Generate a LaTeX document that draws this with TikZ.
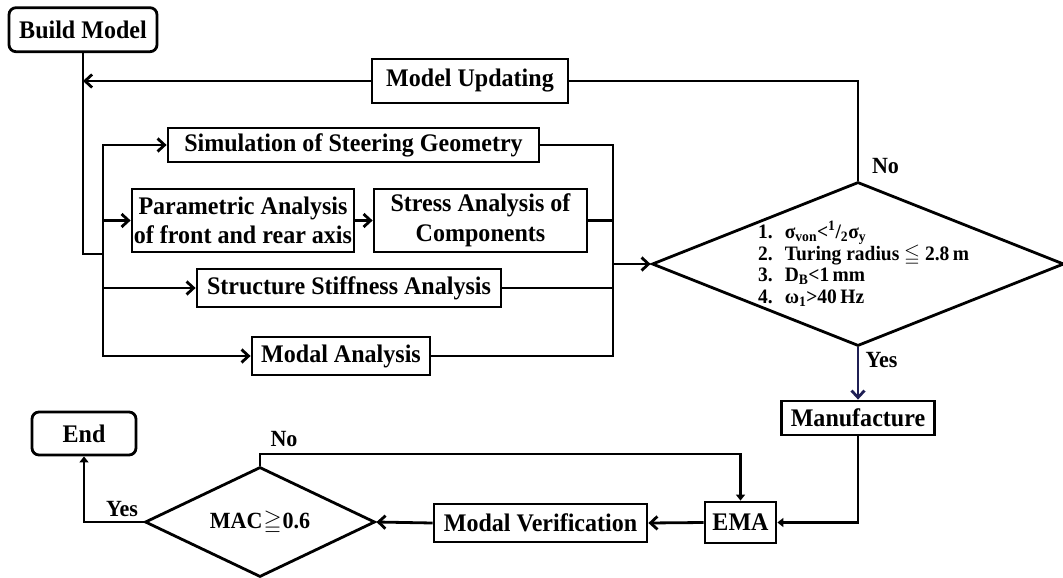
\documentclass[tikz,border=0pt]{standalone}
\usepackage{fontspec}
\usepackage{amssymb}
\setmainfont{Liberation Serif}[FakeStretch=0.95]
\usetikzlibrary{shapes.geometric,arrows.meta}
\definecolor{navy}{RGB}{31,31,84}

\begin{document}
\begin{tikzpicture}[x=1pt,y=-1pt,
  every node/.style={font=\bfseries\fontsize{25.3}{29.5}\selectfont},
  box/.style={draw,line width=2.8pt,inner sep=0pt,align=center},
  startend/.style={box,rounded corners=7pt},
  decision/.style={draw,diamond,line width=2.8pt,inner sep=0pt},
  lbl/.style={font=\bfseries\fontsize{23.2}{27}\selectfont,inner sep=0pt,anchor=base},
  flow/.style={line width=2.8pt},
  barb/.style={flow,-{Straight Barb[length=7pt,width=13pt]}},
  tri/.style={flow,-{Triangle[length=6pt,width=9pt]}},
]
\fill[white] (0,0) rectangle (1063,578);
\useasboundingbox (0,0) rectangle (1063,578);

% design loop
\node[startend,minimum width=148pt,minimum height=44pt] (build) at (83,29.7) {Build Model};
\node[box,minimum width=196pt,minimum height=44pt] (upd) at (470,81) {Model Updating};
\node[box,minimum width=371pt,minimum height=34pt] (sim) at (353.5,145) {Simulation of Steering Geometry};
\node[box,minimum width=222pt,minimum height=63pt] (par) at (243,220.5) {Parametric Analysis\\of front and rear axis};
\node[box,minimum width=213pt,minimum height=63pt] (str) at (480.5,220.5) {Stress Analysis of\\Components};
\node[box,minimum width=304pt,minimum height=38pt] (stf) at (349,288) {Structure Stiffness Analysis};
\node[box,minimum width=178pt,minimum height=38pt] (mod) at (341,356) {Modal Analysis};

% design criteria
\node[decision,minimum width=412pt,minimum height=164pt] (crit) at (858,264) {};
\node[anchor=west,inner sep=0pt,font=\bfseries\fontsize{20.5}{21.7}\selectfont] (crittext) at (758,265.5)
  {\begin{tabular}{@{}l@{\hspace{12pt}}l@{}}
   1. & σ\textsubscript{von}<\textsuperscript{1}/\textsubscript{2}σ\textsubscript{y}\\
   2. & Turing radius $\leqq$ 2.8\,m\\
   3. & D\textsubscript{B}<1\,mm\\
   4. & ω\textsubscript{1}>40\,Hz
   \end{tabular}};

% verification loop
\node[box,minimum width=153pt,minimum height=34pt] (man) at (858,418) {Manufacture};
\node[box,minimum width=71pt,minimum height=41pt] (ema) at (740.5,522.5) {EMA};
\node[box,minimum width=213pt,minimum height=38pt] (ver) at (540.5,523) {Modal Verification};
\node[decision,minimum width=230pt,minimum height=110pt] (mac) at (260,522) {};
\node[inner sep=0pt,font=\bfseries\fontsize{23.2}{27}\selectfont] (mactext) at (260,523) {MAC\kern1pt$\geqq$\kern1pt0.6};
\node[startend,minimum width=104pt,minimum height=43pt] (end) at (84,433.5) {End};

% branch labels
\node[lbl] (no1) at (885.5,173) {No};
\node[lbl] (yes1) at (881.5,367) {Yes};
\node[lbl] (no2) at (284,446) {No};
\node[lbl] (yes2) at (122,516) {Yes};

% fan-out from the model
\coordinate (split) at (103,254);
\draw[flow] (build.south) |- (split);
\draw[barb] (split) |- (sim.west);
\draw[barb] (split) |- (par.west);
\draw[barb] (split) |- (stf.west);
\draw[barb] (split) |- (mod.west);
\draw[barb] (par.east) -- (str.west);
\draw[barb] (upd.west) -- (build.south |- upd.west);

% fan-in to the criteria
\coordinate (merge) at (613,264);
\draw[flow] (sim.east) -| (merge);
\draw[flow] (str.east) -| (merge);
\draw[flow] (stf.east) -| (merge);
\draw[flow] (mod.east) -| (merge);
\draw[barb] (merge) -- (crit.west);
\draw[flow] (crit.north) |- (upd.east);
\draw[barb,navy] (crit.south) -- (man.north);

% test chain
\coordinate (noturn) at (260,454);
\draw[tri] (man.south) |- (ema.east);
\draw[barb] (ema.west) -- (ver.east);
\draw[barb] (ver.west) -- (mac.east);
\draw[tri] (mac.north) -- (noturn) -| (ema.north);
\draw[tri] (mac.west) -| (end.south);
\end{tikzpicture}
\end{document}
